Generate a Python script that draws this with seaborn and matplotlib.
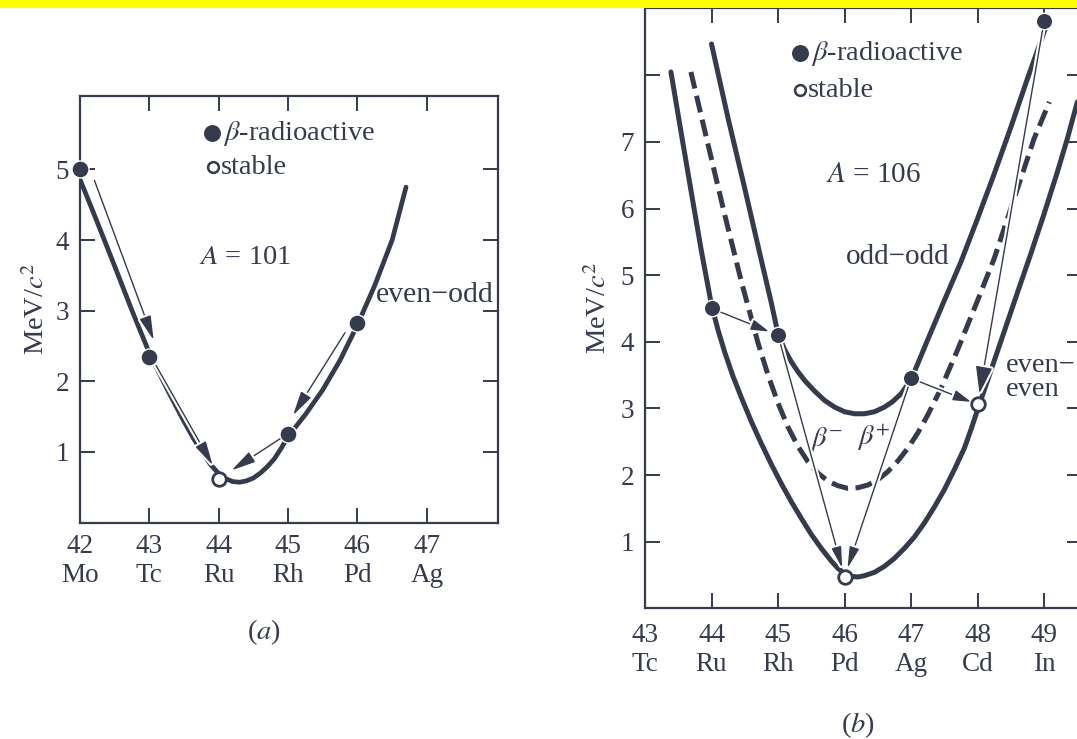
import matplotlib
matplotlib.use("Agg")
import matplotlib.pyplot as plt
import matplotlib.patheffects as pe
from matplotlib.patches import Rectangle
from matplotlib.transforms import offset_copy
import numpy as np
import seaborn as sns

# ---------------- data: panel (a), A = 101 ----------------
a_ticks = [42, 43, 44, 45, 46, 47]
a_symbols = ["Mo", "Tc", "Ru", "Rh", "Pd", "Ag"]
a_nuc_Z = [42, 43, 44, 45, 46]
a_nuc_E = [5.00, 2.35, 0.62, 1.26, 2.82]
a_nuc_stable = [False, False, True, False, False]
a_curve_Z = [42.00, 42.25, 42.50, 42.75, 43.00, 43.25, 43.50, 43.625, 43.75, 43.875,
             44.00, 44.10, 44.20, 44.30, 44.40, 44.50, 44.60, 44.70, 44.80, 44.90,
             45.00, 45.25, 45.50, 45.75, 46.00, 46.25, 46.50, 46.70]
a_curve_E = [4.86, 4.25, 3.63, 3.00, 2.40, 1.90, 1.43, 1.21, 1.01, 0.83,
             0.69, 0.62, 0.58, 0.57, 0.59, 0.63, 0.70, 0.79, 0.90, 1.05,
             1.22, 1.53, 1.88, 2.30, 2.80, 3.36, 4.00, 4.75]
a_decay_from = [42, 43, 46, 45]
a_decay_to = [43, 44, 45, 44]

# ---------------- data: panel (b), A = 106 ----------------
b_ticks = [43, 44, 45, 46, 47, 48, 49]
b_symbols = ["Tc", "Ru", "Rh", "Pd", "Ag", "Cd", "In"]
b_nuc_Z = [44, 45, 46, 47, 48, 49]
b_nuc_E = [4.50, 4.10, 0.47, 3.45, 3.06, 8.81]
b_nuc_stable = [False, False, True, False, True, False]
# even-even (lower solid)
b_ee_Z = [43.39, 43.55, 43.70, 43.85, 44.00, 44.10, 44.20, 44.32, 44.45, 44.60, 44.75,
          44.90, 45.05, 45.20, 45.35, 45.50, 45.65, 45.80, 45.90, 46.00, 46.10, 46.20,
          46.30, 46.45, 46.60, 46.75, 46.90, 47.05, 47.20, 47.35, 47.50, 47.65, 47.80,
          47.90, 48.00, 48.15, 48.30, 48.45, 48.60, 48.80, 49.00, 49.20, 49.35, 49.50]
b_ee_E = [8.05, 7.10, 6.22, 5.35, 4.55, 4.17, 3.84, 3.49, 3.16, 2.80, 2.47,
          2.16, 1.87, 1.60, 1.35, 1.11, 0.90, 0.71, 0.60, 0.52, 0.48, 0.47,
          0.49, 0.54, 0.63, 0.75, 0.90, 1.07, 1.28, 1.52, 1.78, 2.08, 2.40,
          2.68, 2.98, 3.42, 3.86, 4.30, 4.74, 5.32, 5.92, 6.55, 7.05, 7.60]
# odd-odd (upper solid)
b_oo_Z = [44.00, 44.25, 44.50, 44.75, 44.90, 45.00, 45.10, 45.20, 45.30, 45.40, 45.55,
          45.70, 45.85, 46.00, 46.15, 46.30, 46.45, 46.60, 46.72, 46.85, 46.95, 47.05,
          47.25, 47.50, 47.75, 48.00, 48.25, 48.50, 48.75, 49.00, 49.06]
b_oo_E = [8.47, 7.35, 6.30, 5.22, 4.58, 4.12, 3.88, 3.70, 3.55, 3.42, 3.26,
          3.12, 3.02, 2.95, 2.92, 2.92, 2.95, 3.02, 3.10, 3.22, 3.36, 3.55,
          4.03, 4.62, 5.20, 5.85, 6.52, 7.22, 7.95, 8.65, 8.80]
# dashed middle curve
b_mid_Z = [43.69, 43.95, 44.20, 44.45, 44.70, 44.85, 45.00, 45.15, 45.30, 45.45, 45.60,
           45.75, 45.90, 46.05, 46.20, 46.35, 46.50, 46.65, 46.80, 46.95, 47.10, 47.25,
           47.45, 47.70, 48.00, 48.25, 48.55, 48.85, 49.08]
b_mid_E = [8.05, 6.95, 5.90, 4.90, 3.98, 3.50, 3.08, 2.72, 2.43, 2.20, 2.03,
           1.91, 1.84, 1.80, 1.81, 1.85, 1.93, 2.05, 2.21, 2.40, 2.63, 2.90,
           3.30, 3.88, 4.62, 5.25, 6.15, 7.05, 7.60]
b_decay_from = [44, 45, 47, 47, 49]
b_decay_to = [45, 46, 46, 48, 48]

INK = "#353a4c"
SERIF = ["Liberation Serif", "DejaVu Serif"]
FS_TEXT = 20.5
FS_TICK = 19.5

sns.set_theme(style="ticks")
plt.rcParams["font.family"] = SERIF
plt.rcParams["mathtext.fontset"] = "stix"
plt.rcParams["axes.edgecolor"] = INK
plt.rcParams["text.color"] = INK
plt.rcParams["xtick.color"] = INK
plt.rcParams["ytick.color"] = INK
plt.rcParams["axes.labelcolor"] = INK

fig = plt.figure(figsize=(10.77, 7.39), dpi=100)
fig.patch.set_facecolor("white")

W, H = 1077.0, 739.0
axA = fig.add_axes([80 / W, 1 - 522.5 / H, 418.3 / W, 426.5 / H])
axB = fig.add_axes([645 / W, 1 - 608.3 / H, 437 / W, 600.3 / H])
axA.set_xlim(42, 48.03)
axA.set_ylim(0, 6.04)
axB.set_xlim(43, 49.57)
axB.set_ylim(0, 9.01)

halo = [pe.Stroke(linewidth=4.0, foreground="white"), pe.Normal()]


def nuclide_points(ax, Z, E, stable, size_f, size_o):
    zr = [z for z, s in zip(Z, stable) if not s]
    er = [e for e, s in zip(E, stable) if not s]
    zs = [z for z, s in zip(Z, stable) if s]
    es = [e for e, s in zip(E, stable) if s]
    sns.scatterplot(x=zr, y=er, ax=ax, s=size_f, color=INK, edgecolor="white",
                    linewidth=1.0, zorder=10, clip_on=False)
    sns.scatterplot(x=zs, y=es, ax=ax, s=size_o, color="white", edgecolor=INK,
                    linewidth=2.0, zorder=10, clip_on=False)


def decay_arrow(ax, zf, ef, zt, et, shA, shB, perp=0.0, hl=0.45, hw=0.15, ms=20, lw=1.0):
    p0 = ax.transData.transform((zf, ef))
    p1 = ax.transData.transform((zt, et))
    d = (p1 - p0) / np.hypot(*(p1 - p0))
    n = np.array([-d[1], d[0]])
    tr = offset_copy(ax.transData, fig=ax.figure, x=n[0] * perp, y=n[1] * perp, units="points")
    ax.annotate("", xy=(zt, et), xycoords=tr, xytext=(zf, ef), textcoords=tr,
                arrowprops=dict(arrowstyle=f"-|>,head_length={hl},head_width={hw}",
                                shrinkA=shA, shrinkB=shB, lw=lw, color=INK,
                                mutation_scale=ms, path_effects=halo),
                zorder=6)


def style_axes(ax, ticks, symbols, yt, ylab_show, xpad):
    ax.set_xticks(ticks)
    ax.set_xticklabels([f"{t}\n{s}" for t, s in zip(ticks, symbols)], linespacing=1.22)
    ax.set_yticks(yt)
    ax.set_yticklabels(ylab_show)
    ax.tick_params(direction="in", length=10.5, width=1.4, top=True, right=True,
                   labelsize=FS_TICK)
    ax.tick_params(axis="x", pad=xpad)
    ax.tick_params(axis="y", pad=8)
    for sp in ax.spines.values():
        sp.set_linewidth(1.6)
        sp.set_color(INK)
        sp.set_visible(True)
    ax.set_facecolor("white")
    ax.set_ylabel("MeV/$c^2$", fontsize=FS_TEXT)
    ax.set_xlabel("")


# ---------------- panel (a) ----------------
sns.lineplot(x=a_curve_Z, y=a_curve_E, ax=axA, sort=False, estimator=None,
             color=INK, linewidth=3.4, zorder=3, solid_joinstyle="round")
Ea = dict(zip(a_nuc_Z, a_nuc_E))
a_geom = {(42, 43): (11, 10, 7), (43, 44): (8, 10.5, 1), (46, 45): (10.5, 13, -4), (45, 44): (4, 11, 0)}
for zf, zt in zip(a_decay_from, a_decay_to):
    shA, shB, perp = a_geom[(zf, zt)]
    decay_arrow(axA, zf, Ea[zf], zt, Ea[zt], shA, shB, perp, hl=0.75, hw=0.18)
nuclide_points(axA, a_nuc_Z, a_nuc_E, a_nuc_stable, 150, 95)
style_axes(axA, a_ticks, a_symbols, [1, 2, 3, 4, 5], ["1", "2", "3", "4", "5"], 8.5)
axA.yaxis.set_label_coords(-0.072, 0.5)

axA.scatter([0.316], [0.913], s=125, color=INK, transform=axA.transAxes, clip_on=False)
axA.scatter([0.318], [0.833], s=60, facecolor="white", edgecolor=INK, linewidths=1.8,
            transform=axA.transAxes, clip_on=False)
axA.text(0.342, 0.913, r"$\beta$-radioactive", transform=axA.transAxes, fontsize=FS_TEXT,
         ha="left", va="center")
axA.text(0.336, 0.833, "stable", transform=axA.transAxes, fontsize=FS_TEXT, ha="left", va="center")
axA.text(0.395, 0.622, "$A$ = 101", transform=axA.transAxes, fontsize=FS_TEXT, ha="center", va="center")
axA.text(0.708, 0.533, "even\u2212odd", transform=axA.transAxes, fontsize=21.5, ha="left", va="center")

# ---------------- panel (b) ----------------
sns.lineplot(x=b_ee_Z, y=b_ee_E, ax=axB, sort=False, estimator=None,
             color=INK, linewidth=3.6, zorder=3, solid_joinstyle="round")
sns.lineplot(x=b_oo_Z, y=b_oo_E, ax=axB, sort=False, estimator=None,
             color=INK, linewidth=3.6, zorder=3, solid_joinstyle="round")
sns.lineplot(x=b_mid_Z, y=b_mid_E, ax=axB, sort=False, estimator=None,
             color=INK, linewidth=3.6, zorder=3, linestyle=(0, (3.4, 1.5)))
Eb = dict(zip(b_nuc_Z, b_nuc_E))
b_geom = {(44, 45): (5, 7, 0, 0.55, 0.16, 20), (45, 46): (5.5, 6.6, 0, 0.65, 0.15, 20),
          (47, 46): (3.6, 6.7, 0, 0.65, 0.15, 20), (47, 48): (3, 5, 0, 0.55, 0.16, 20),
          (49, 48): (5, 8, 0, 0.85, 0.26, 20)}
for zf, zt in zip(b_decay_from, b_decay_to):
    shA, shB, perp, hl, hw, ms = b_geom[(zf, zt)]
    decay_arrow(axB, zf, Eb[zf], zt, Eb[zt], shA, shB, perp, hl=hl, hw=hw, ms=ms)
nuclide_points(axB, b_nuc_Z, b_nuc_E, b_nuc_stable, 140, 95)
style_axes(axB, b_ticks, b_symbols, [1, 2, 3, 4, 5, 6, 7, 8],
           ["1", "2", "3", "4", "5", "6", "7", ""], 10.5)
axB.yaxis.set_label_coords(-0.076, 0.5)

axB.scatter([0.355], [0.925], s=125, color=INK, transform=axB.transAxes, clip_on=False)
axB.scatter([0.354], [0.863], s=60, facecolor="white", edgecolor=INK, linewidths=1.8,
            transform=axB.transAxes, clip_on=False)
axB.text(0.380, 0.925, r"$\beta$-radioactive", transform=axB.transAxes, fontsize=FS_TEXT,
         ha="left", va="center")
axB.text(0.373, 0.863, "stable", transform=axB.transAxes, fontsize=FS_TEXT, ha="left", va="center")
axB.text(0.522, 0.722, "$A$ = 106", transform=axB.transAxes, fontsize=21, ha="center", va="center")
axB.text(0.578, 0.585, "odd\u2212odd", transform=axB.transAxes, fontsize=21, ha="center", va="center")
axB.text(0.826, 0.405, "even\u2212", transform=axB.transAxes, fontsize=FS_TEXT, ha="left", va="center")
axB.text(0.826, 0.364, "even", transform=axB.transAxes, fontsize=FS_TEXT, ha="left", va="center")
axB.text(0.416, 0.281, r"$\beta^{-}$", transform=axB.transAxes, fontsize=FS_TEXT, ha="center", va="center")
axB.text(0.523, 0.285, r"$\beta^{+}$", transform=axB.transAxes, fontsize=FS_TEXT, ha="center", va="center")

fig.text(264 / W, 1 - 632 / H, "($a$)", fontsize=FS_TEXT, ha="center", va="center")
fig.text(858 / W, 1 - 725 / H, "($b$)", fontsize=FS_TEXT, ha="center", va="center")

fig.add_artist(Rectangle((0, 1 - 7.5 / H), 1, 7.5 / H, transform=fig.transFigure,
                         facecolor="#ffff00", edgecolor="none", zorder=100))

fig.savefig("out.png", dpi=100, facecolor="white")
